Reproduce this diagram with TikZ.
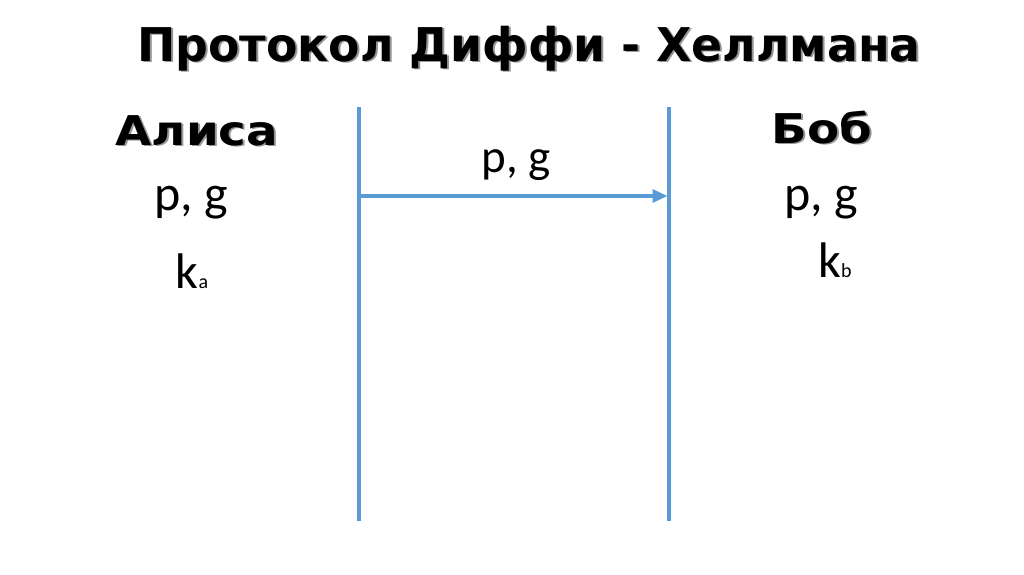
\documentclass[tikz,border=0pt]{standalone}
\usepackage{fontspec}
\setmainfont{Carlito}
\newfontfamily\heavyfont{DejaVu Sans}
\usetikzlibrary{positioning,arrows.meta}
\definecolor{wireblue}{RGB}{91,155,213}
\definecolor{shadegray}{RGB}{150,150,150}

\begin{document}
\begin{tikzpicture}[x=1pt,y=-1pt,
  wire/.style = {draw=wireblue, line width=3.5pt},
  txt/.style = {inner sep=0pt, anchor=base, font=\fontsize{50}{56}\selectfont},
  head/.style = {inner sep=0pt, anchor=base, font=\heavyfont\bfseries\fontsize{46.5}{52}\selectfont},
  who/.style = {inner sep=0pt, anchor=base, font=\heavyfont\bfseries\fontsize{41}{46}\selectfont}]
        \useasboundingbox (0,0) rectangle (1024,574);
        % title with shadow
        \node[head, text=shadegray] (titleS) at (531,62.5) {\scalebox{0.985}[1]{Протокол Диффи - Хеллмана}};
        \node[head] (title) at (529,61) {\scalebox{0.985}[1]{Протокол Диффи - Хеллмана}};
        % parties
        \node[who, text=shadegray] (aliceS) at (199,146.5) {\scalebox{1.14}[1]{Алиса}};
        \node[who] (alice) at (197,145) {\scalebox{1.14}[1]{Алиса}};
        \node[who, text=shadegray] (bobS) at (824,144.5) {\scalebox{1.14}[1]{Боб}};
        \node[who] (bob) at (822,143) {\scalebox{1.14}[1]{Боб}};
        \node[txt] (pgA) at (191,210) {p, g};
        \node[txt] (pgB) at (821,210) {p, g};
        \node[txt] (kA) at (192,288) {k{\fontsize{20}{20}\selectfont a}};
        \node[txt] (kB) at (835,277) {k{\fontsize{20}{20}\selectfont b}};
        % channel
        \coordinate (aTop) at (359,107);
        \coordinate (aBot) at (359,521);
        \coordinate (bTop) at (669,107);
        \coordinate (bBot) at (669,521);
        \coordinate (aMsg) at (359,196);
        \coordinate (bMsg) at (667.5,196);
        \draw[wire] (aTop) -- (aBot);
        \draw[wire] (bTop) -- (bBot);
        \draw[wire, -{Triangle[length=15pt,width=13pt]}] (aMsg) -- (bMsg);
        \node[txt, font=\fontsize{47}{52}\selectfont] (pgMsg) at (516,172) {p, g};
\end{tikzpicture}
\end{document}
